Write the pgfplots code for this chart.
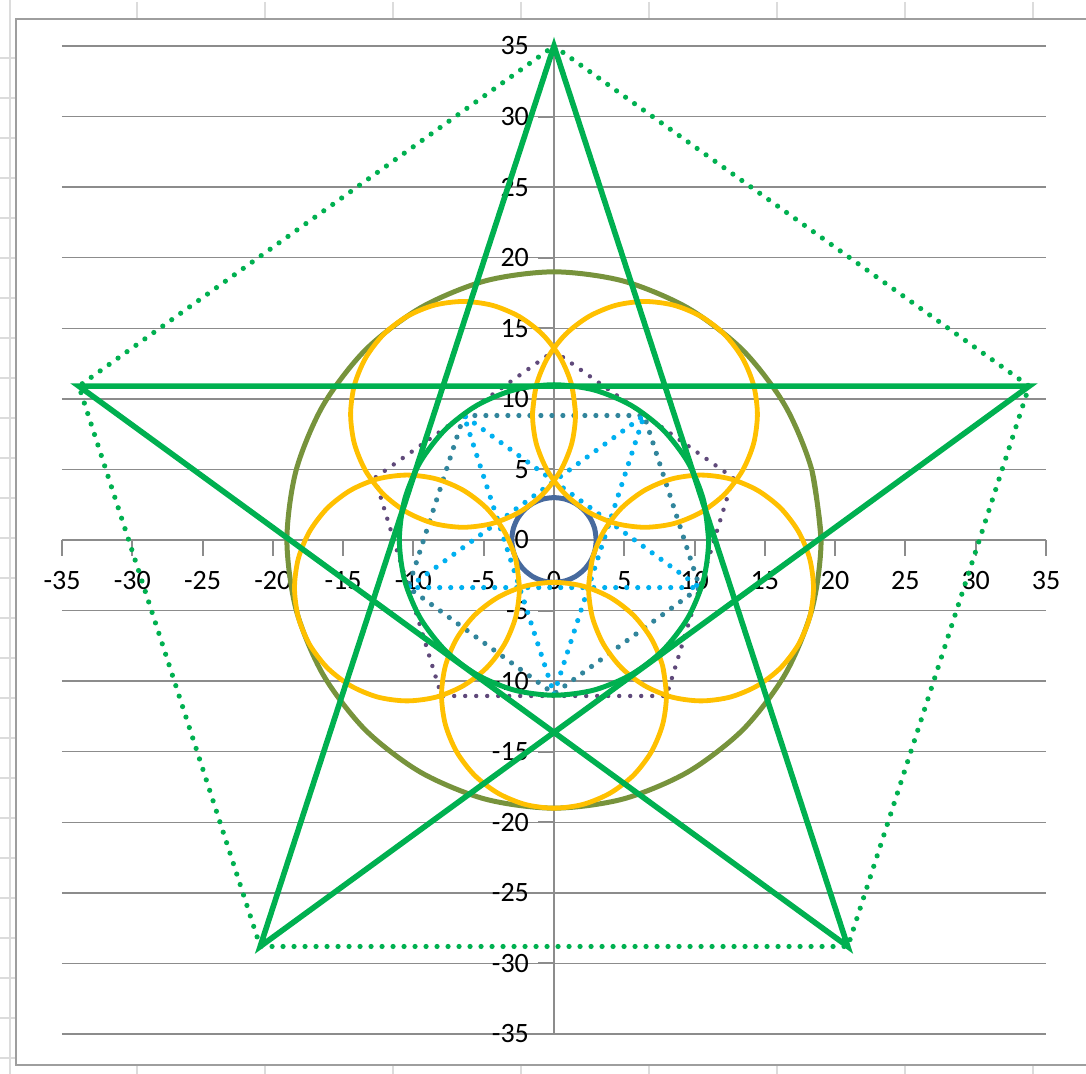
\documentclass[border=0pt]{standalone}
\usepackage{fontspec}
\setmainfont{Carlito}
\usepackage{pgfplots}
\pgfplotsset{compat=1.18}
\definecolor{cgreen}{HTML}{00B050}
\definecolor{colive}{HTML}{77933C}
\definecolor{corange}{HTML}{FFC000}
\definecolor{cpurple}{HTML}{5F497A}
\definecolor{cteal}{HTML}{31859C}
\definecolor{clblue}{HTML}{00B0F0}
\definecolor{cdblue}{HTML}{476A9E}
\definecolor{gridgray}{HTML}{8C8C8C}
\definecolor{framegray}{HTML}{9E9E9E}
\definecolor{sheetgray}{HTML}{DCDCDC}
\begin{document}
\begin{tikzpicture}
\useasboundingbox (-31pt,-20pt) rectangle (512pt,517pt);
\begin{scope}[x=0.5pt,y=-0.5pt,shift={(-31pt,517pt)}]
  \draw[sheetgray,line width=1pt] (10,0) -- (10,1074);
  \foreach \py in {58,98,...,1058} \draw[sheetgray,line width=1pt] (0,\py) -- (16,\py);
  \foreach \px in {137,265,...,1033} {\draw[sheetgray,line width=1pt] (\px,2) -- (\px,19);
    \draw[sheetgray,line width=1pt] (\px,1065) -- (\px,1074);}
  \draw[framegray,line width=1pt] (1095,19) -- (16,19) -- (16,1065) -- (1095,1065);
\end{scope}
\begin{axis}[
  at={(0,0)}, anchor=south west,
  scale only axis, width=492pt, height=494pt,
  xmin=-35, xmax=35, ymin=-35, ymax=35,
  axis lines=center, axis line style={-, draw=gridgray, line width=1pt},
  xtick={-35,-30,...,35}, ytick={-35,-30,...,35},
  ymajorgrids, grid style={gridgray, line width=0.75pt},
  tick style={gridgray, line width=1pt},
  major tick length=8pt, tick align=outside,
  hide obscured x ticks=false, hide obscured y ticks=false,
  /pgf/number format/assume math mode=true,
  tick label style={font=\fontsize{14}{16}\selectfont, text=black},
  xticklabel style={anchor=north, yshift=-4pt},
  yticklabel style={anchor=east, xshift=-1pt},
  clip=false,
  dots/.style={line width=2.6pt, dash pattern=on 0pt off 5.5pt, line cap=round},
]
% purple dotted pentagon
\addplot[cpurple, dots, line width=2.2pt] coordinates {(0,13.4) (12.75,4.4) (8.0,-11.05) (-8.0,-11.05) (-12.75,4.4) (0,13.4)};
% teal dotted pentagon
\addplot[cteal, dots] coordinates {(-6.41,8.82) (6.41,8.82) (10.37,-3.37) (0,-10.9) (-10.37,-3.37) (-6.41,8.82)};
% light blue dotted pentagram
\addplot[clblue, dots] coordinates {(0,-10.9) (6.41,8.82) (-10.37,-3.37) (10.37,-3.37) (-6.41,8.82) (0,-10.9)};
% small circle r=3
\addplot[cdblue, line width=2.5pt, smooth] coordinates {(3,0) (2.9,0.78) (2.6,1.5) (2.12,2.12) (1.5,2.6) (0.78,2.9) (0,3) (-0.78,2.9) (-1.5,2.6) (-2.12,2.12) (-2.6,1.5) (-2.9,0.78) (-3,0) (-2.9,-0.78) (-2.6,-1.5) (-2.12,-2.12) (-1.5,-2.6) (-0.78,-2.9) (0,-3) (0.78,-2.9) (1.5,-2.6) (2.12,-2.12) (2.6,-1.5) (2.9,-0.78) (3,0) (2.9,0.78)};
% olive circle r=19
\addplot[colive, line width=2.5pt, smooth] coordinates {(19,0) (18.35,4.92) (16.45,9.5) (13.44,13.44) (9.5,16.45) (4.92,18.35) (0,19) (-4.92,18.35) (-9.5,16.45) (-13.44,13.44) (-16.45,9.5) (-18.35,4.92) (-19,0) (-18.35,-4.92) (-16.45,-9.5) (-13.44,-13.44) (-9.5,-16.45) (-4.92,-18.35) (0,-19) (4.92,-18.35) (9.5,-16.45) (13.44,-13.44) (16.45,-9.5) (18.35,-4.92) (19,0) (18.35,4.92)};
% orange circles r=8
\addplot[corange, line width=2.4pt, smooth] coordinates {(1.53,8.90) (1.26,10.97) (0.46,12.90) (-0.81,14.56) (-2.47,15.83) (-4.40,16.63) (-6.47,16.90) (-8.54,16.63) (-10.47,15.83) (-12.13,14.56) (-13.40,12.90) (-14.20,10.97) (-14.47,8.90) (-14.20,6.83) (-13.40,4.90) (-12.13,3.24) (-10.47,1.97) (-8.54,1.17) (-6.47,0.90) (-4.40,1.17) (-2.47,1.97) (-0.81,3.24) (0.46,4.90) (1.26,6.83) (1.53,8.90) (1.26,10.97)};
\addplot[corange, line width=2.4pt, smooth] coordinates {(-1.53,8.90) (-1.26,10.97) (-0.46,12.90) (0.81,14.56) (2.47,15.83) (4.40,16.63) (6.47,16.90) (8.54,16.63) (10.47,15.83) (12.13,14.56) (13.40,12.90) (14.20,10.97) (14.47,8.90) (14.20,6.83) (13.40,4.90) (12.13,3.24) (10.47,1.97) (8.54,1.17) (6.47,0.90) (4.40,1.17) (2.47,1.97) (0.81,3.24) (-0.46,4.90) (-1.26,6.83) (-1.53,8.90) (-1.26,10.97)};
\addplot[corange, line width=2.4pt, smooth] coordinates {(-2.46,-3.40) (-2.73,-1.33) (-3.53,0.60) (-4.80,2.26) (-6.46,3.53) (-8.39,4.33) (-10.46,4.60) (-12.53,4.33) (-14.46,3.53) (-16.12,2.26) (-17.39,0.60) (-18.19,-1.33) (-18.46,-3.40) (-18.19,-5.47) (-17.39,-7.40) (-16.12,-9.06) (-14.46,-10.33) (-12.53,-11.13) (-10.46,-11.40) (-8.39,-11.13) (-6.46,-10.33) (-4.80,-9.06) (-3.53,-7.40) (-2.73,-5.47) (-2.46,-3.40) (-2.73,-1.33)};
\addplot[corange, line width=2.4pt, smooth] coordinates {(2.46,-3.40) (2.73,-1.33) (3.53,0.60) (4.80,2.26) (6.46,3.53) (8.39,4.33) (10.46,4.60) (12.53,4.33) (14.46,3.53) (16.12,2.26) (17.39,0.60) (18.19,-1.33) (18.46,-3.40) (18.19,-5.47) (17.39,-7.40) (16.12,-9.06) (14.46,-10.33) (12.53,-11.13) (10.46,-11.40) (8.39,-11.13) (6.46,-10.33) (4.80,-9.06) (3.53,-7.40) (2.73,-5.47) (2.46,-3.40) (2.73,-1.33)};
\addplot[corange, line width=2.4pt, smooth] coordinates {(8,-11) (7.73,-8.93) (6.93,-7) (5.66,-5.34) (4,-4.07) (2.07,-3.27) (0,-3) (-2.07,-3.27) (-4,-4.07) (-5.66,-5.34) (-6.93,-7) (-7.73,-8.93) (-8,-11) (-7.73,-13.07) (-6.93,-15) (-5.66,-16.66) (-4,-17.93) (-2.07,-18.73) (0,-19) (2.07,-18.73) (4,-17.93) (5.66,-16.66) (6.93,-15) (7.73,-13.07) (8,-11) (7.73,-8.93)};
% green circle r=11
\addplot[cgreen, line width=2.5pt, smooth] coordinates {(11,0) (10.63,2.85) (9.53,5.5) (7.78,7.78) (5.5,9.53) (2.85,10.63) (0,11) (-2.85,10.63) (-5.5,9.53) (-7.78,7.78) (-9.53,5.5) (-10.63,2.85) (-11,0) (-10.63,-2.85) (-9.53,-5.5) (-7.78,-7.78) (-5.5,-9.53) (-2.85,-10.63) (0,-11) (2.85,-10.63) (5.5,-9.53) (7.78,-7.78) (9.53,-5.5) (10.63,-2.85) (11,0) (10.63,2.85)};
% green dotted pentagon
\addplot[cgreen, dots] coordinates {(0,35) (33.8,10.9) (20.9,-28.8) (-20.9,-28.8) (-33.8,10.9) (0,35)};
% green pentagram
\addplot[cgreen, line width=2.8pt] coordinates {(0,35) (20.9,-28.8) (-33.8,10.9) (33.8,10.9) (-20.9,-28.8) (0,35) (20.9,-28.8)};
\end{axis}
\end{tikzpicture}
\end{document}
